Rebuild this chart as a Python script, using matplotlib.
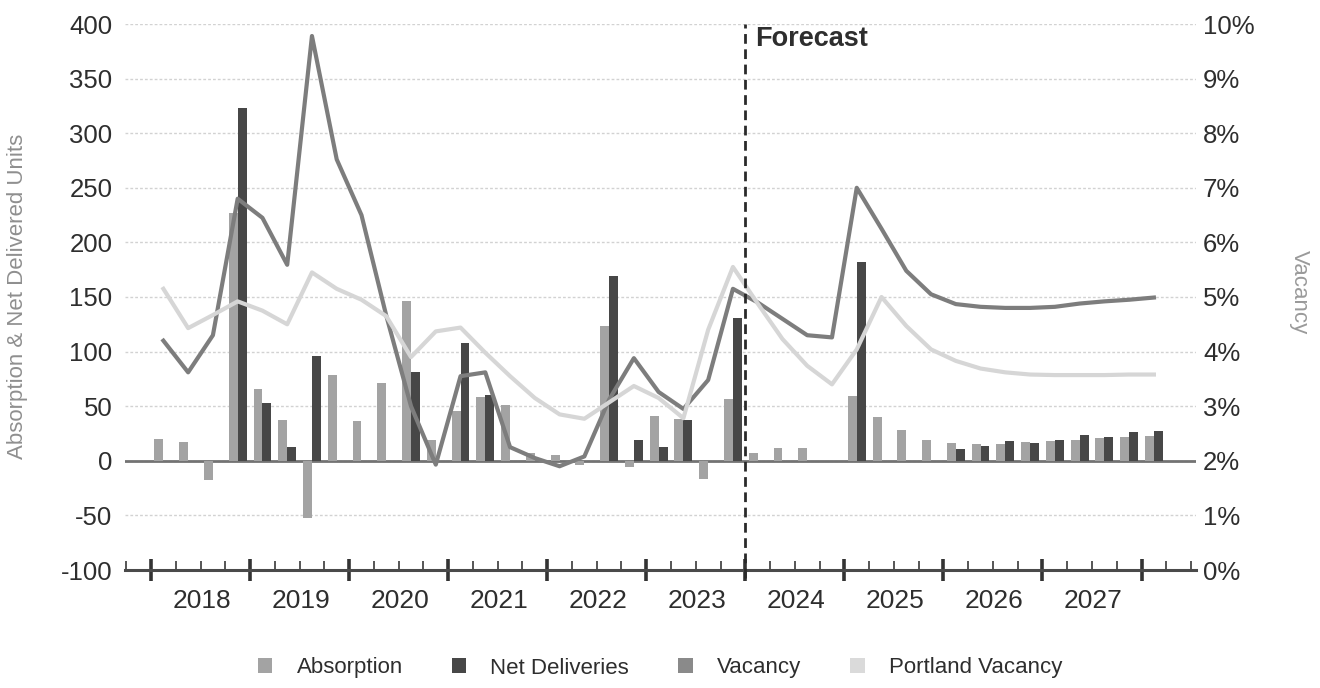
import matplotlib
matplotlib.use('Agg')
import matplotlib.pyplot as plt
import numpy as np
from matplotlib.patches import Patch

# ---------------- data (quarterly, 2018 Q1 .. 2028 Q1) ----------------
years = ['2018', '2019', '2020', '2021', '2022', '2023', '2024', '2025', '2026', '2027']

absorption = [20, 17, -18, 227, 66, 37, -52, 79, 36, 71,
              146, 19, 46, 58, 51, 7, 5, -4, 123, -6,
              41, 38, -17, 57, 7, 12, 12, 0, 59, 40,
              28, 19, 16, 15, 15, 17, 18, 19, 21, 22, 23]

net_deliveries = [0, 0, 0, 323, 53, 13, 96, 0, 0, 0,
                  81, 0, 108, 60, 0, 0, 0, 0, 169, 19,
                  13, 37, 0, 131, 0, 0, 0, 0, 182, 0,
                  0, 0, 11, 14, 18, 16, 19, 24, 22, 26, 27]

vacancy = [4.20, 3.62, 4.30, 6.80, 6.45, 5.59, 9.78, 7.52, 6.50, 4.66,
           3.00, 1.93, 3.55, 3.62, 2.25, 2.05, 1.90, 2.08, 3.12, 3.88,
           3.26, 2.95, 3.48, 5.15, 4.90, 4.60, 4.30, 4.26, 7.00, 6.25,
           5.48, 5.05, 4.87, 4.82, 4.80, 4.80, 4.82, 4.88, 4.92, 4.95, 4.99]

portland_vacancy = [5.15, 4.43, 4.67, 4.92, 4.75, 4.50, 5.45, 5.15, 4.95, 4.65,
                    3.90, 4.37, 4.44, 3.98, 3.55, 3.15, 2.85, 2.77, 3.07, 3.37,
                    3.15, 2.78, 4.40, 5.55, 4.88, 4.23, 3.74, 3.40, 4.04, 5.00,
                    4.47, 4.04, 3.83, 3.69, 3.62, 3.58, 3.57, 3.57, 3.57, 3.58, 3.58]

left_ticks = [-100, -50, 0, 50, 100, 150, 200, 250, 300, 350, 400]
right_ticks = [0, 1, 2, 3, 4, 5, 6, 7, 8, 9, 10]
legend_labels = ['Absorption', 'Net Deliveries', 'Vacancy', 'Portland Vacancy']
forecast_label = 'Forecast'
forecast_start = 24  # index of 2024 Q1

# ---------------- style ----------------
plt.rcParams['font.family'] = ['Liberation Sans', 'DejaVu Sans']
c_abs = '#a3a3a3'
c_net = '#474747'
c_vac = '#7d7d7d'
c_port = '#d6d6d6'
c_text = '#2e2e2e'

W, H = 1320, 688
fig = plt.figure(figsize=(W / 100, H / 100), dpi=100)
ax = fig.add_axes([125 / W, 1 - 570 / H, (1196 - 125) / W, (570 - 24) / H])
ax2 = ax.twinx()

q = np.arange(len(absorption))

ax.bar(q - 0.18, absorption, width=0.36, color=c_abs, zorder=3)
ax.bar(q + 0.18, net_deliveries, width=0.36, color=c_net, zorder=3)
ax.axhline(0, color='#737373', lw=2, zorder=2)

ax.set_ylim(left_ticks[0], left_ticks[-1])
ax.set_yticks(left_ticks)
ax.set_yticklabels([str(t) for t in left_ticks])
ax.grid(axis='y', color='#d2d2d2', ls=(0, (2, 1.5)), lw=1, zorder=0)
ax.set_xlim(-1.55, 41.7)

for s in ['top', 'right', 'left']:
    ax.spines[s].set_visible(False)
ax.spines['bottom'].set_color('#4a4a4a')
ax.spines['bottom'].set_linewidth(2.2)

# x ticks: year boundaries (major), quarter boundaries (minor)
major = [4 * k - 0.5 for k in range(len(years) + 1)]
minor = [i - 0.5 for i in range(-1, 43) if (i - 0.5) not in major and -1.55 <= i - 0.5 <= 41.7]
ax.set_xticks(major)
ax.set_xticklabels([])
ax.set_xticks(minor, minor=True)
ax.tick_params(axis='x', which='major', direction='inout', length=16, width=2.6, color='#333333')
ax.tick_params(axis='x', which='minor', direction='in', length=6.5, width=1.4, color='#555555')
ax.tick_params(axis='y', length=0, pad=9, labelsize=18.5, labelcolor=c_text)

for k, yr in enumerate(years):
    ax.annotate(yr, xy=(4 * k + 1.55, left_ticks[0]), xycoords='data',
                xytext=(0, -22.5), textcoords='offset points',
                ha='center', va='center', fontsize=19, color=c_text,
                annotation_clip=False)

# vacancy lines
ax2.plot(q, vacancy, color=c_vac, lw=3.0, zorder=4)
ax2.plot(q, portland_vacancy, color=c_port, lw=3.0, zorder=5)
ax2.set_ylim(right_ticks[0], right_ticks[-1])
ax2.set_yticks(right_ticks)
ax2.set_yticklabels([f'{t}%' for t in right_ticks])
ax2.tick_params(axis='y', length=0, pad=5, labelsize=18.5, labelcolor=c_text)
for s in ax2.spines.values():
    s.set_visible(False)

# forecast divider
ax2.axvline(forecast_start - 0.5, ymin=-0.015, ymax=1.0, color='#2a2a2a',
            ls=(0, (3.5, 2)), lw=2, zorder=6, clip_on=False)
ax.text(forecast_start - 0.1, 386, forecast_label, fontsize=19.5, fontweight='bold',
        color=c_text, ha='left', va='center', zorder=7)

# axis titles
fig.text(18 / W, 1 - 296 / H, 'Absorption & Net Delivered Units', rotation=90,
         ha='center', va='center', fontsize=16, color='#8f8f8f')
fig.text(1299 / W, 1 - 292 / H, 'Vacancy', rotation=270,
         ha='center', va='center', fontsize=16, color='#9a9a9a')

# legend
handles = [Patch(facecolor=c_abs), Patch(facecolor=c_net),
           Patch(facecolor='#8a8a8a'), Patch(facecolor='#dadada')]
fig.legend(handles, legend_labels, loc='center', bbox_to_anchor=(0.5, 1 - 668 / H),
           ncol=4, frameon=False, fontsize=16, handlelength=0.65, handleheight=0.65,
           handletextpad=1.1, columnspacing=2.2, labelcolor=c_text)

fig.savefig('out.png', dpi=100)
